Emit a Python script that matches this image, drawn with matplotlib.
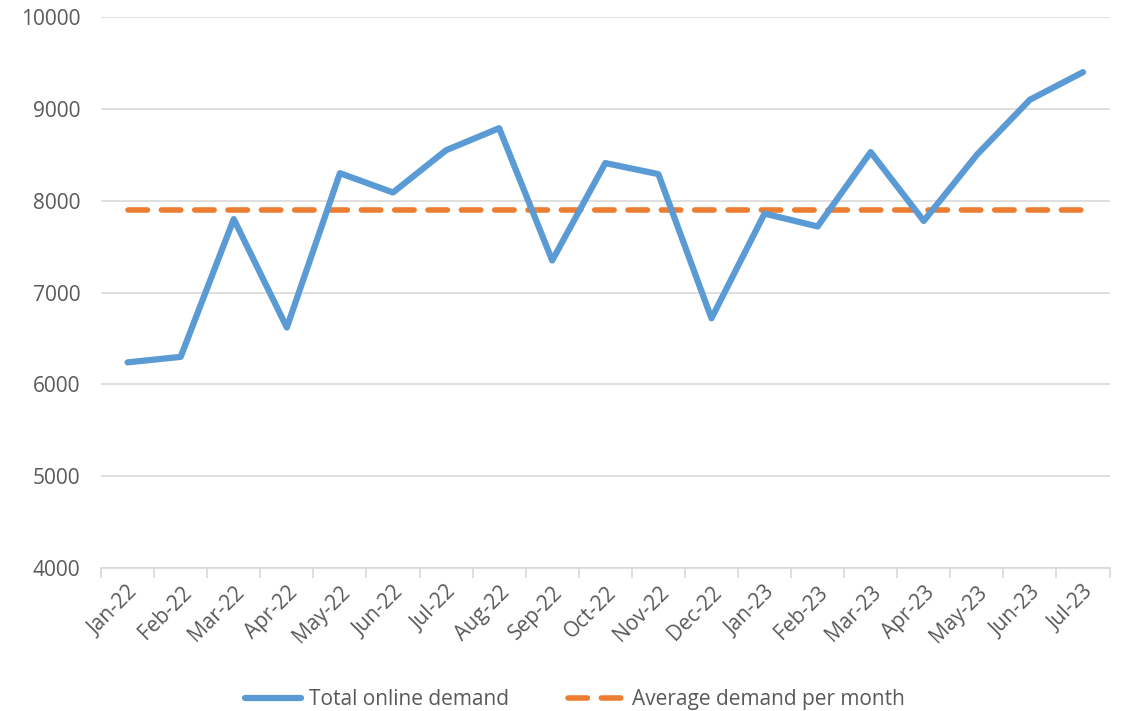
import matplotlib.pyplot as plt

months = ['Jan-22', 'Feb-22', 'Mar-22', 'Apr-22', 'May-22', 'Jun-22', 'Jul-22',
          'Aug-22', 'Sep-22', 'Oct-22', 'Nov-22', 'Dec-22', 'Jan-23', 'Feb-23',
          'Mar-23', 'Apr-23', 'May-23', 'Jun-23', 'Jul-23']
total_demand = [6240, 6300, 7800, 6620, 8300, 8090, 8550, 8790, 7350, 8410,
                8290, 6720, 7860, 7720, 8530, 7780, 8500, 9100, 9400]
average_demand = [7900] * len(months)

plt.rcParams['font.family'] = ['Open Sans', 'DejaVu Sans']
text_col = '#595959'
grid_col = '#d9d9d9'

fig = plt.figure(figsize=(11.23, 7.11), dpi=100)
ax = fig.add_axes([0.09, 0.201, 0.898, 0.775])

x = list(range(len(months)))
ax.plot(x, total_demand, color='#5b9bd5', lw=4.5, solid_capstyle='round',
        solid_joinstyle='round', label='Total online demand', zorder=3)
ax.plot(x, average_demand, color='#ed7d31', lw=4, ls=(0, (3.5, 2.5)),
        dash_capstyle='round', label='Average demand per month', zorder=2)

ax.set_xlim(-0.5, len(months) - 0.5)
ax.set_ylim(4000, 10000)
ax.set_yticks(range(4000, 10001, 1000))
ax.yaxis.grid(True, color=grid_col, lw=1.2)
ax.set_axisbelow(True)

# category axis: labels at centres, tick marks between categories
ax.set_xticks(x)
ax.set_xticklabels(months, rotation=45, ha='right', rotation_mode='anchor')
ax.set_xticks([i - 0.5 for i in range(len(months) + 1)], minor=True)
ax.tick_params(axis='x', which='major', length=0, pad=10)
ax.tick_params(axis='x', which='minor', length=7, color=grid_col, width=1.2)
ax.tick_params(axis='y', length=0, pad=15)
ax.tick_params(labelsize=15, labelcolor=text_col)

for s in ['top', 'right', 'left']:
    ax.spines[s].set_visible(False)
ax.spines['bottom'].set_color(grid_col)
ax.spines['bottom'].set_linewidth(1.2)

fig.legend(loc='lower center', bbox_to_anchor=(0.512, -0.025), ncol=2, frameon=False,
           fontsize=15, labelcolor=text_col, handlelength=2.7, handletextpad=0.4,
           columnspacing=2.8)

fig.savefig('out.png', dpi=100)
